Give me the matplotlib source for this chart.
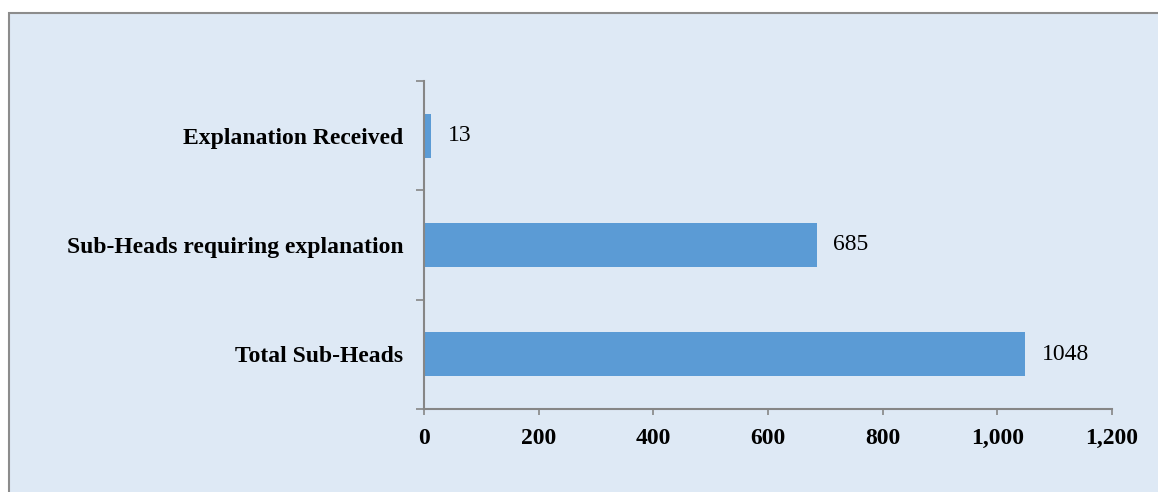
import matplotlib
matplotlib.use('Agg')
import matplotlib.pyplot as plt
from matplotlib.patches import Rectangle
from matplotlib.ticker import FuncFormatter, FixedLocator

# data, bottom to top
categories = ['Total Sub-Heads', 'Sub-Heads requiring explanation', 'Explanation Received']
values = [1048, 685, 13]
x_ticks = [0, 200, 400, 600, 800, 1000, 1200]

bg = '#DEE9F5'
bar_color = '#5B9BD5'
axis_gray = '#868686'

plt.rcParams['font.family'] = ['Liberation Serif', 'DejaVu Serif']

fig = plt.figure(figsize=(11.58, 4.92), dpi=100)
fig.patch.set_facecolor('white')

# chart area frame (left and top edges visible)
frame = Rectangle((8.5 / 1158, -0.05), 1.1, (492 - 13) / 492 + 0.05,
                  transform=fig.transFigure, facecolor=bg,
                  edgecolor='#8C8C8C', linewidth=1.5, zorder=-1)
fig.patches.append(frame)

ax = fig.add_axes([424 / 1158, 1 - 409 / 492, (1112 - 424) / 1158, (409 - 81) / 492])
ax.set_facecolor('none')
ax.set_zorder(2)

ypos = list(range(len(categories)))
bars = ax.barh(ypos, values, height=0.4, color=bar_color, zorder=2)

for b, v in zip(bars, values):
    ax.annotate(str(v), (b.get_width(), b.get_y() + b.get_height() / 2),
                xytext=(12, 0), textcoords='offset points',
                va='center', ha='left', fontsize=17, color='black')

ax.set_xlim(0, 1200)
ax.set_ylim(-0.5, len(categories) - 0.5)

ax.xaxis.set_major_locator(FixedLocator(x_ticks))
ax.xaxis.set_major_formatter(FuncFormatter(lambda v, p: '{:,.0f}'.format(v)))
ax.tick_params(axis='x', direction='out', length=4, width=1.2, color=axis_gray,
               labelsize=17, pad=10)
for lbl in ax.get_xticklabels():
    lbl.set_fontweight('bold')

ax.set_yticks(ypos)
ax.set_yticklabels(categories, fontsize=17, fontweight='bold')
ax.set_yticks([-0.5, 0.5, 1.5, 2.5], minor=True)
ax.tick_params(axis='y', which='major', length=0, pad=15)
ax.tick_params(axis='y', which='minor', direction='out', length=6, width=1.2, color=axis_gray)

for side in ['top', 'right']:
    ax.spines[side].set_visible(False)
for side in ['left', 'bottom']:
    ax.spines[side].set_color(axis_gray)
    ax.spines[side].set_linewidth(1.5)

fig.savefig('out.png', dpi=100, facecolor=fig.get_facecolor())
